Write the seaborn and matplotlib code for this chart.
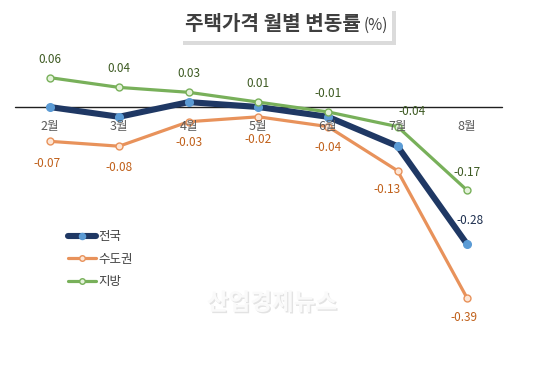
import matplotlib
matplotlib.use("Agg")
import matplotlib.pyplot as plt
import matplotlib.patheffects as pe
from matplotlib.patches import Rectangle
import pandas as pd
import seaborn as sns

# ---- data ----
months = ['2월', '3월', '4월', '5월', '6월', '7월', '8월']
national = [0.00, -0.02, 0.01, 0.00, -0.02, -0.08, -0.28]
capital = [-0.07, -0.08, -0.03, -0.02, -0.04, -0.13, -0.39]
regional = [0.06, 0.04, 0.03, 0.01, -0.01, -0.04, -0.17]
series_names = ['전국', '수도권', '지방']
title_main = '주택가격 월별 변동률'
title_unit = '(%)'
watermark = '산업경제뉴스'

sns.set_style('white')
plt.rcParams['font.family'] = ['Noto Sans CJK KR', 'DejaVu Sans']

W, H = 539, 365
fig = plt.figure(figsize=(W / 100, H / 100), dpi=100)
ax = fig.add_axes([0, 0, 1, 1])

df = pd.DataFrame({'month': months, 'national': national,
                   'capital': capital, 'regional': regional})

styles = {
    'national': dict(color='#1f3864', lw=4.4, mfc='#5b9bd5', mec='#5b9bd5', ms=5.5, label=series_names[0]),
    'capital': dict(color='#e8925b', lw=2.3, mfc='#fde6d6', mec='#e8925b', ms=5, label=series_names[1]),
    'regional': dict(color='#78b05a', lw=2.3, mfc='#e4f2da', mec='#78b05a', ms=5, label=series_names[2]),
}
for key in ['capital', 'national', 'regional']:
    s = styles[key]
    sns.lineplot(data=df, x='month', y=key, ax=ax, sort=False, color=s['color'],
                 linewidth=s['lw'], marker='o', markersize=s['ms'],
                 markerfacecolor=s['mfc'], markeredgecolor=s['mec'], markeredgewidth=1.0,
                 label=s['label'], zorder=3 if key != 'regional' else 4)

# pixel-based axis mapping: zero line at y=107px, 490 px per unit, months from x=49.5 every 69.6 px
x0, dx = 49.5, 69.6
ax.set_xlim(-x0 / dx, (W - x0) / dx)
ax.set_ylim(-(H - 107) / 490, 107 / 490)
ax.axis('off')

# zero line
ax.axhline(0, xmin=15 / W, xmax=502 / W, color='#202020', lw=1.0, zorder=2)

# month labels below the zero line
for i, m in enumerate(months):
    ax.annotate(m, xy=(i, 0), xytext=(0, -19), textcoords='offset pixels',
                ha='center', va='center', fontsize=9, color='#595959', zorder=5)

# data labels
reg_off = [(0, 18), (0, 19), (0, 19), (0, 19), (0, 18), (15, 15), (0, 18)]
cap_off = [(-2, -22), (0, -21), (0, -21), (0, -23), (0, -21), (-10, -19), (-3, -19)]
for i, v in enumerate(regional):
    ax.annotate(f'{v:.2f}', xy=(i, v), xytext=reg_off[i], textcoords='offset pixels',
                ha='center', va='center', fontsize=8.5, color='#3d5a22', zorder=6)
for i, v in enumerate(capital):
    ax.annotate(f'{v:.2f}', xy=(i, v), xytext=cap_off[i], textcoords='offset pixels',
                ha='center', va='center', fontsize=8.5, color='#c0601a', zorder=6)
ax.annotate(f'{national[-1]:.2f}', xy=(len(national) - 1, national[-1]), xytext=(3, 24),
            textcoords='offset pixels', ha='center', va='center', fontsize=8.5,
            color='#1f3050', zorder=6)

# legend
handles, labels = ax.get_legend_handles_labels()
order = [labels.index(n) for n in series_names]
leg = ax.legend([handles[k] for k in order], [labels[k] for k in order],
                loc='upper left', bbox_to_anchor=(62 / W, 1 - 224 / H),
                bbox_transform=fig.transFigure, frameon=False, fontsize=9,
                handlelength=2.2, handletextpad=0.2, labelspacing=0.75, borderpad=0,
                markerscale=0.8)
for t in leg.get_texts():
    t.set_color('#404040')

# title box with shadow
box = Rectangle((179 / W, 1 - 41 / H), 213 / W, 34 / H, transform=fig.transFigure,
                facecolor='white', edgecolor='none', zorder=1,
                path_effects=[pe.SimplePatchShadow(offset=(3, -3), shadow_rgbFace='#b0b0b0', alpha=0.45),
                              pe.Normal()])
fig.patches.append(box)
fig.text(361 / W, 1 - 24 / H, title_main, ha='right', va='center', fontsize=14.5,
         fontweight='bold', color='#3f3f3f')
fig.text(364 / W, 1 - 25 / H, title_unit, ha='left', va='center', fontsize=11,
         color='#3f3f3f')

# watermark
fig.text(272 / W, 1 - 303 / H, watermark, ha='center', va='center', fontsize=17,
         fontweight='bold', color='#fafafa', zorder=0,
         path_effects=[pe.SimplePatchShadow(offset=(1, -1), shadow_rgbFace='#dcdcdc', alpha=0.8),
                       pe.Normal()])

fig.savefig('out.png', dpi=100, facecolor='white')
